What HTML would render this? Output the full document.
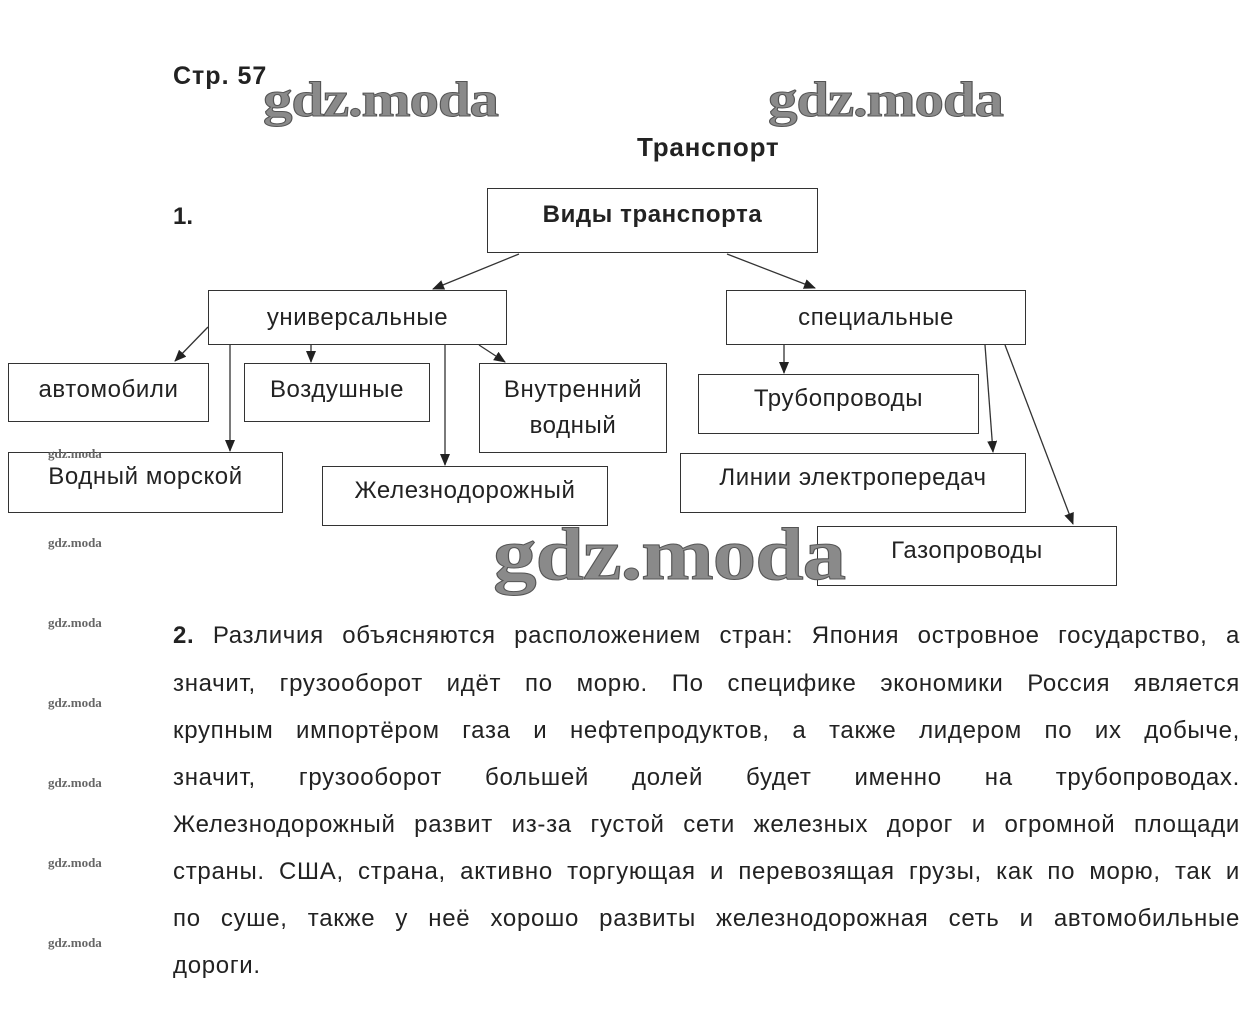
<!DOCTYPE html>
<html><head><meta charset="utf-8"><style>
body{margin:0;width:1258px;height:1035px;background:#fff;position:relative;overflow:hidden;font-family:"Liberation Sans",Arial,sans-serif;color:#222}
.a{position:absolute}
.b{position:absolute;border:1px solid #333;box-sizing:border-box;display:flex;align-items:center;justify-content:center;text-align:center;font-size:24px;line-height:36px;color:#222;letter-spacing:0.6px}
.wm{position:absolute;font-family:"Liberation Serif",serif;font-weight:bold;color:#8a8a8a;letter-spacing:-1px;-webkit-text-stroke:1px #555;transform-origin:0 0}
.sm{position:absolute;font-family:"Liberation Serif",serif;font-size:13px;font-weight:bold;color:#666;left:48px}
.l{position:absolute;left:173px;width:1067px;font-size:24px;letter-spacing:0.7px;text-align:justify;text-align-last:justify;white-space:nowrap;color:#222}
</style></head><body>
<div class="a" style="left:173px;top:62px;font-size:25px;font-weight:bold;letter-spacing:1px">Стр. 57</div>
<div class="a" style="left:637px;top:132px;font-size:26px;font-weight:bold;letter-spacing:0.8px">Транспорт</div>
<div class="a" style="left:173px;top:203px;font-size:24px;font-weight:bold">1.</div>
<div class="b" style="left:487px;top:188px;width:331px;height:65px;font-weight:bold;align-items:flex-start;padding-top:8px">Виды транспорта</div>
<div class="b" style="left:208px;top:290px;width:299px;height:55px">универсальные</div>
<div class="b" style="left:726px;top:290px;width:300px;height:55px">специальные</div>
<div class="b" style="left:8px;top:363px;width:201px;height:59px;align-items:flex-start;padding-top:8px">автомобили</div>
<div class="b" style="left:244px;top:363px;width:186px;height:59px;align-items:flex-start;padding-top:8px">Воздушные</div>
<div class="b" style="left:479px;top:363px;width:188px;height:90px">Внутренний<br>водный</div>
<div class="b" style="left:8px;top:452px;width:275px;height:61px;align-items:flex-start;padding-top:6px">Водный морской</div>
<div class="b" style="left:322px;top:466px;width:286px;height:60px;align-items:flex-start;padding-top:6px">Железнодорожный</div>
<div class="b" style="left:698px;top:374px;width:281px;height:60px;align-items:flex-start;padding-top:6px">Трубопроводы</div>
<div class="b" style="left:680px;top:453px;width:346px;height:60px;align-items:flex-start;padding-top:6px">Линии электропередач</div>
<div class="b" style="left:817px;top:526px;width:300px;height:60px;align-items:flex-start;padding-top:6px">Газопроводы</div>
<svg class="a" style="left:0;top:0" width="1258" height="1035">
<defs><marker id="m" markerWidth="12" markerHeight="10" refX="11" refY="5" orient="auto" markerUnits="userSpaceOnUse"><path d="M0,0 L12,5 L0,10 z" fill="#222"/></marker></defs>
<g stroke="#333" stroke-width="1.3" marker-end="url(#m)">
<line x1="519" y1="254" x2="433" y2="289"/>
<line x1="727" y1="254" x2="815" y2="288"/>
<line x1="208" y1="327" x2="175" y2="361"/>
<line x1="230" y1="345" x2="230" y2="451"/>
<line x1="311" y1="345" x2="311" y2="362"/>
<line x1="445" y1="345" x2="445" y2="465"/>
<line x1="479" y1="345" x2="505" y2="362"/>
<line x1="784" y1="345" x2="784" y2="373"/>
<line x1="985" y1="345" x2="993" y2="452"/>
<line x1="1005" y1="345" x2="1073" y2="524"/>
</g></svg>
<div class="wm" style="left:263px;top:70px;font-size:50px;transform:scaleX(1.18)">gdz.moda</div>
<div class="wm" style="left:768px;top:70px;font-size:50px;transform:scaleX(1.18)">gdz.moda</div>
<div class="wm" style="left:493px;top:513px;font-size:74px;transform:scaleX(1.18)">gdz.moda</div>
<div class="sm" style="top:446px">gdz.moda</div>
<div class="sm" style="top:535px">gdz.moda</div>
<div class="sm" style="top:615px">gdz.moda</div>
<div class="sm" style="top:695px">gdz.moda</div>
<div class="sm" style="top:775px">gdz.moda</div>
<div class="sm" style="top:855px">gdz.moda</div>
<div class="sm" style="top:935px">gdz.moda</div>
<div class="l" style="top:622px"><b>2.</b> Различия объясняются расположением стран: Япония островное государство, а</div>
<div class="l" style="top:670px">значит, грузооборот идёт по морю. По специфике экономики Россия является</div>
<div class="l" style="top:717px">крупным импортёром газа и нефтепродуктов, а также лидером по их добыче,</div>
<div class="l" style="top:764px">значит, грузооборот большей долей будет именно на трубопроводах.</div>
<div class="l" style="top:811px">Железнодорожный развит из-за густой сети железных дорог и огромной площади</div>
<div class="l" style="top:858px">страны. США, страна, активно торгующая и перевозящая грузы, как по морю, так и</div>
<div class="l" style="top:905px">по суше, также у неё хорошо развиты железнодорожная сеть и автомобильные</div>
<div class="l" style="top:952px;text-align-last:left">дороги.</div>
</body></html>
